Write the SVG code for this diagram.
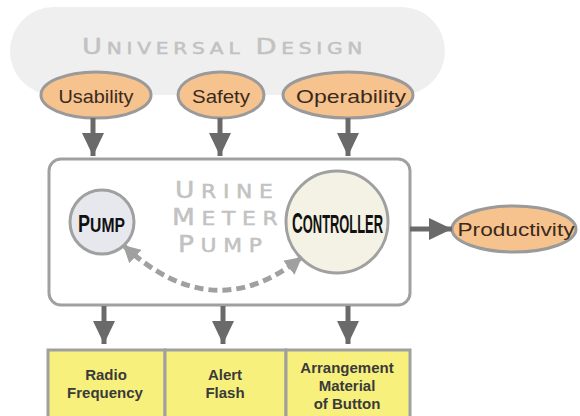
<svg xmlns="http://www.w3.org/2000/svg" width="580" height="416" viewBox="0 0 580 416">
<style>
.bg{fill:#efefef}
.title{font-family:"DejaVu Sans","Liberation Sans",sans-serif;fill:#c2c2c2;stroke:#c2c2c2;stroke-width:0.5}
.oval{fill:#f6c28e;stroke:#9a9a9a;stroke-width:3}
.otext{font-family:"Liberation Sans","DejaVu Sans",sans-serif;font-size:19px;fill:#3a2a1c;text-anchor:middle}
.frame{fill:#ffffff;stroke:#a0a0a0;stroke-width:3}
.ctext{font-family:"Liberation Sans","DejaVu Sans",sans-serif;font-weight:bold;fill:#111}
.ybox{fill:#f7f07c;stroke:#a0a0a0;stroke-width:3}
.btext{font-family:"Liberation Sans","DejaVu Sans",sans-serif;font-size:15px;font-weight:bold;fill:#3a3a3a;text-anchor:middle}
.solid{stroke:#6a6a6a;stroke-width:5;fill:none;marker-end:url(#head)}
.dash{stroke:#a0a0a0;stroke-width:5;fill:none;stroke-dasharray:9 5;marker-start:url(#dhead);marker-end:url(#dhead)}
</style>
<defs>
<marker id="head" markerUnits="userSpaceOnUse" markerWidth="24" markerHeight="22" refX="23" refY="11" orient="auto">
<path d="M0,0 L23,11 L0,22 z" fill="#6a6a6a"/>
</marker>
<marker id="dhead" markerUnits="userSpaceOnUse" markerWidth="18" markerHeight="18" refX="17" refY="9" orient="auto-start-reverse">
<path d="M0,0 L17,9 L0,18 z" fill="#a0a0a0"/>
</marker>
</defs>

<g id="universal-design">
<rect class="bg" x="10" y="7" width="435" height="88" rx="44"/>
<text class="title" transform="translate(82,54) scale(1.3,1)" letter-spacing="3.65"><tspan font-size="21">U</tspan><tspan font-size="15.5">NIVERSAL </tspan><tspan font-size="21">D</tspan><tspan font-size="15.5">ESIGN</tspan></text>
</g>

<g id="main-frame">
<rect class="frame" x="49" y="159" width="361" height="146" rx="12"/>
<text class="title" transform="translate(175,198) scale(1.15,1)" letter-spacing="5.8"><tspan font-size="23">U</tspan><tspan font-size="19">RINE</tspan></text>
<text class="title" transform="translate(172,225) scale(1.15,1)" letter-spacing="5.8"><tspan font-size="23">M</tspan><tspan font-size="19">ETER</tspan></text>
<text class="title" transform="translate(178,252) scale(1.15,1)" letter-spacing="5.8"><tspan font-size="23">P</tspan><tspan font-size="19">UMP</tspan></text>
</g>

<g id="usability">
<ellipse class="oval" cx="96" cy="95" rx="55" ry="23"/>
<text class="otext" x="96" y="103" textLength="75" lengthAdjust="spacingAndGlyphs">Usability</text>
</g>
<g id="safety">
<ellipse class="oval" cx="221" cy="95" rx="43" ry="23"/>
<text class="otext" x="221" y="103" textLength="58" lengthAdjust="spacingAndGlyphs">Safety</text>
</g>
<g id="operability">
<ellipse class="oval" cx="348" cy="95" rx="65" ry="23"/>
<text class="otext" x="351" y="103" textLength="110" lengthAdjust="spacingAndGlyphs">Operability</text>
</g>

<g id="pump">
<circle cx="102" cy="222" r="32" fill="#e6e8ee" stroke="#a0a0a0" stroke-width="3"/>
<text class="ctext" transform="translate(78,232) scale(0.786,1)"><tspan font-size="23">P</tspan><tspan font-size="20">UMP</tspan></text>
</g>
<g id="controller">
<circle cx="337" cy="222" r="51" fill="#f3f2e4" stroke="#a0a0a0" stroke-width="3"/>
<text class="ctext" transform="translate(292,233) scale(0.516,1)"><tspan font-size="29">C</tspan><tspan font-size="25">ONTROLLER</tspan></text>
</g>

<g id="productivity">
<ellipse class="oval" cx="514" cy="229" rx="62" ry="23"/>
<text class="otext" x="516" y="236" textLength="117" lengthAdjust="spacingAndGlyphs">Productivity</text>
</g>

<g id="radio-frequency">
<rect class="ybox" x="48" y="350" width="117" height="70"/>
<text class="btext" x="106" y="380">Radio</text>
<text class="btext" x="105" y="398">Frequency</text>
</g>
<g id="alert-flash">
<rect class="ybox" x="165" y="350" width="121" height="70"/>
<text class="btext" x="225" y="380">Alert</text>
<text class="btext" x="225" y="398">Flash</text>
</g>
<g id="arrangement">
<rect class="ybox" x="286" y="350" width="124" height="70"/>
<text class="btext" x="347" y="373">Arrangement</text>
<text class="btext" x="347" y="391">Material</text>
<text class="btext" x="347" y="409">of Button</text>
</g>

<g id="connectors">
<line class="solid" x1="93" y1="118" x2="93" y2="156"/>
<line class="solid" x1="220" y1="118" x2="220" y2="156"/>
<line class="solid" x1="348" y1="118" x2="348" y2="156"/>
<line class="solid" x1="410" y1="229" x2="452" y2="229"/>
<line class="solid" x1="104" y1="306" x2="104" y2="344"/>
<line class="solid" x1="223" y1="306" x2="223" y2="344"/>
<line class="solid" x1="348" y1="306" x2="348" y2="344"/>
<path class="dash" d="M123,245 Q213,329 302,257"/>
</g>
</svg>
